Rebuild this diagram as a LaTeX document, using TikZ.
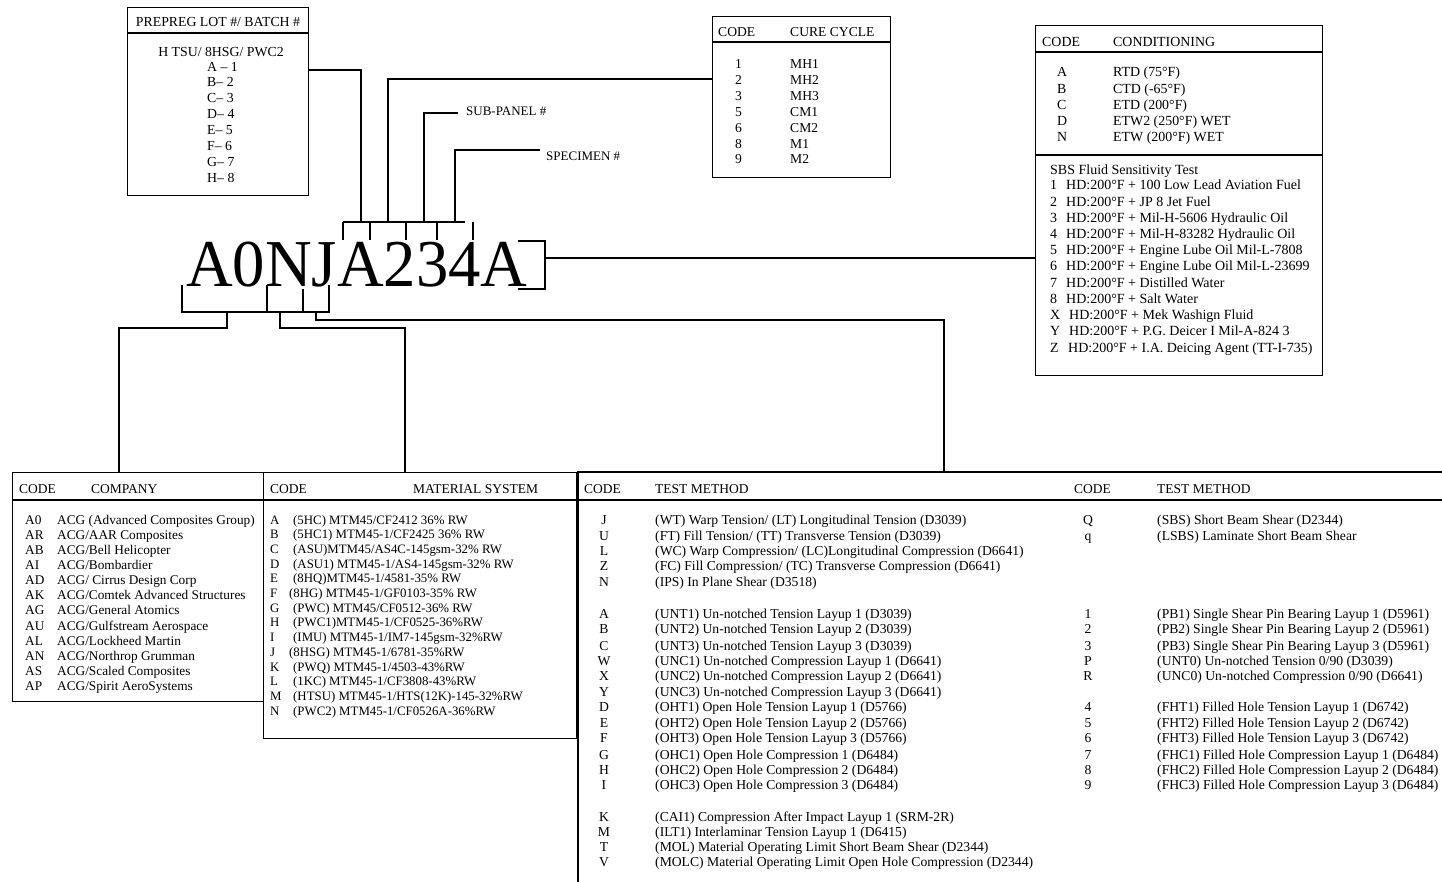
\documentclass[tikz,border=0pt]{standalone}
\usepackage{fontspec}
\setmainfont{Liberation Serif}
\usepackage{graphicx}
\begin{document}
\begin{tikzpicture}[x=1pt,y=-1pt,
  ln/.style={line width=1.3pt},
  box/.style={draw, line width=1.4pt, anchor=north west, inner sep=0pt},
  t/.style={anchor=base west, inner sep=0pt},
  tc/.style={anchor=base, inner sep=0pt},
  hd/.style={t, font=\fontsize{13.5}{15}\selectfont},
  fpre/.style={font=\fontsize{13.8}{15}\selectfont},
  fcure/.style={font=\fontsize{13.6}{15}\selectfont},
  fcond/.style={font=\fontsize{13.9}{15}\selectfont},
  fsbs/.style={font=\fontsize{14}{15}\selectfont},
  fco/.style={font=\fontsize{13.3}{15}\selectfont},
  fmat/.style={font=\fontsize{12.85}{15}\selectfont},
  ftest/.style={font=\fontsize{13.65}{15}\selectfont},
  flab/.style={font=\fontsize{13}{15}\selectfont}
]
\fill[white] (0,0) rectangle (1442,882);
\useasboundingbox (0,0) rectangle (1442,882);

% ---------- big code ----------
\node[t] (code) at (186,287) {\scalebox{0.965}[1]{\fontsize{67}{67}\selectfont A0NJA234A}};

% ---------- prepreg box ----------
\node[box, minimum width=181pt, minimum height=188pt] (prepreg) at (127,7) {};
\draw[ln] (prepreg.west |- 0,33) -- (prepreg.east |- 0,33);
\node[tc, fpre] (prehd) at (218,27) {PREPREG LOT \#/ BATCH \#};
\node[tc, fpre] (prebody) at (221,57) {H TSU/ 8HSG/ PWC2};
\foreach \y/\s [count=\i] in {71.5/{A – 1},87/{B– 2},103/{C– 3},119/{D– 4},135/{E– 5},151/{F– 6},167/{G– 7},183/{H– 8}}
  \node[t, fpre] (pre\i) at (207,\y) {\s};

% ---------- cure cycle box ----------
\node[box, minimum width=178pt, minimum height=161pt] (cure) at (712,16) {};
\draw[ln] (cure.west |- 0,42) -- (cure.east |- 0,42);
\node[t, fcure] (curehc) at (718,37) {CODE};
\node[t, fcure] (curehd) at (790,37) {CURE CYCLE};
\foreach \y/\c/\s [count=\i] in {68.5/1/MH1,84.5/2/MH2,100.5/3/MH3,116.5/5/CM1,133/6/CM2,148.5/8/M1,164/9/M2}{
  \node[t, fcure] (curec\i) at (735,\y) {\c};
  \node[t, fcure] (curet\i) at (790,\y) {\s};
}

% ---------- conditioning box ----------
\node[box, minimum width=287pt, minimum height=350pt] (cond) at (1035,25) {};
\draw[ln] (cond.west |- 0,52) -- (cond.east |- 0,52);
\draw[line width=2.6pt] (cond.west |- 0,155) -- (cond.east |- 0,155);
\node[t, fcond] (condhc) at (1042,47) {CODE};
\node[t, fcond] (condhd) at (1113,47) {CONDITIONING};
\foreach \y/\c/\s [count=\i] in {77/A/{RTD (75°F)},93.5/B/{CTD (-65°F)},109.5/C/{ETD (200°F)},125.5/D/{ETW2 (250°F) WET},141.5/N/{ETW (200°F) WET}}{
  \node[t, fcond] (condc\i) at (1057,\y) {\c};
  \node[t, fcond] (condt\i) at (1113,\y) {\s};
}
\node[t, fsbs] (sbshd) at (1050,175) {SBS Fluid Sensitivity Test};
\foreach \y/\c/\x/\s [count=\i] in {
  190/1/1066/{HD:200°F + 100 Low Lead Aviation Fuel},
  206.2/2/1066/{HD:200°F + JP 8 Jet Fuel},
  222.4/3/1066/{HD:200°F + Mil-H-5606 Hydraulic Oil},
  238.6/4/1066/{HD:200°F + Mil-H-83282 Hydraulic Oil},
  254.8/5/1066/{HD:200°F + Engine Lube Oil Mil-L-7808},
  271/6/1066/{HD:200°F + Engine Lube Oil Mil-L-23699},
  287.2/7/1066/{HD:200°F + Distilled Water},
  303.4/8/1066/{HD:200°F + Salt Water},
  319.6/X/1069/{HD:200°F + Mek Washign Fluid},
  335.8/Y/1069/{HD:200°F + P.G. Deicer I Mil-A-824 3},
  352.5/Z/1068/{HD:200°F + I.A. Deicing Agent (TT-I-735)}}{
  \node[t, fsbs] (sbsc\i) at (1050,\y) {\c};
  \node[t, fsbs] (sbst\i) at (\x,\y) {\s};
}

% ---------- company box ----------
\node[box, minimum width=251pt, minimum height=229pt] (company) at (12,472) {};
\draw[ln] (company.west |- 0,500) -- (company.east |- 0,500);
\node[hd] (cohc) at (19,493) {CODE};
\node[hd] (cohd) at (91,493) {COMPANY};
\foreach \y/\c/\s [count=\i] in {
  524/A0/{ACG (Advanced Composites Group)},
  539/AR/{ACG/AAR Composites},
  554/AB/{ACG/Bell Helicopter},
  569.5/AI/{ACG/Bombardier},
  584.5/AD/{ACG/ Cirrus Design Corp},
  599.5/AK/{ACG/Comtek Advanced Structures},
  614.5/AG/{ACG/General Atomics},
  630/AU/{ACG/Gulfstream Aerospace},
  645/AL/{ACG/Lockheed Martin},
  660/AN/{ACG/Northrop Grumman},
  675/AS/{ACG/Scaled Composites},
  690/AP/{ACG/Spirit AeroSystems}}{
  \node[t, fco] (coc\i) at (25,\y) {\c};
  \node[t, fco] (cot\i) at (57,\y) {\s};
}

% ---------- material box ----------
\node[box, minimum width=313pt, minimum height=266pt] (material) at (263,472) {};
\draw[ln] (material.west |- 0,500) -- (material.east |- 0,500);
\node[hd] (mahc) at (270,493) {CODE};
\node[hd] (mahd) at (413,493) {MATERIAL SYSTEM};
\foreach \y/\c/\x/\s [count=\i] in {
  524/A/293/{(5HC) MTM45/CF2412 36\% RW},
  538.7/B/293/{(5HC1) MTM45-1/CF2425 36\% RW},
  553.4/C/293/{(ASU)MTM45/AS4C-145gsm-32\% RW},
  568.1/D/293/{(ASU1) MTM45-1/AS4-145gsm-32\% RW},
  582.8/E/293/{(8HQ)MTM45-1/4581-35\% RW},
  597.5/F/289/{(8HG) MTM45-1/GF0103-35\% RW},
  612.2/G/293/{(PWC) MTM45/CF0512-36\% RW},
  626.9/H/293/{(PWC1)MTM45-1/CF0525-36\%RW},
  641.6/I/293/{(IMU) MTM45-1/IM7-145gsm-32\%RW},
  656.3/J/289/{(8HSG) MTM45-1/6781-35\%RW},
  671/K/293/{(PWQ) MTM45-1/4503-43\%RW},
  685.7/L/293/{(1KC) MTM45-1/CF3808-43\%RW},
  700.4/M/293/{(HTSU) MTM45-1/HTS(12K)-145-32\%RW},
  715.6/N/293/{(PWC2) MTM45-1/CF0526A-36\%RW}}{
  \node[t, fmat] (mac\i) at (270,\y) {\c};
  \node[t, fmat] (mat\i) at (\x,\y) {\s};
}

% ---------- test method area ----------
\coordinate (testtl) at (578,472);
\coordinate (testbl) at (578,882);
\coordinate (testtr) at (1442,472);
\draw[line width=1.4pt] (testbl) -- (testtl) -- (testtr);
\draw[ln] (578,500) -- (1442,500);
\node[hd] (tehc1) at (584,493) {CODE};
\node[hd] (tehd1) at (655,493) {TEST METHOD};
\node[hd] (tehc2) at (1074,493) {CODE};
\node[hd] (tehd2) at (1157,493) {TEST METHOD};
\foreach \y/\c/\s [count=\i] in {
  524.5/J/{(WT) Warp Tension/ (LT) Longitudinal Tension (D3039)},
  540.5/U/{(FT) Fill Tension/ (TT) Transverse Tension (D3039)},
  555.5/L/{(WC) Warp Compression/ (LC)Longitudinal Compression (D6641)},
  570.5/Z/{(FC) Fill Compression/ (TC) Transverse Compression (D6641)},
  586/N/{(IPS) In Plane Shear (D3518)},
  618/A/{(UNT1) Un-notched Tension Layup 1 (D3039)},
  633/B/{(UNT2) Un-notched Tension Layup 2 (D3039)},
  650/C/{(UNT3) Un-notched Tension Layup 3 (D3039)},
  665/W/{(UNC1) Un-notched Compression Layup 1 (D6641)},
  680.5/X/{(UNC2) Un-notched Compression Layup 2 (D6641)},
  696.5/Y/{(UNC3) Un-notched Compression Layup 3 (D6641)},
  711.5/D/{(OHT1) Open Hole Tension Layup 1 (D5766)},
  727/E/{(OHT2) Open Hole Tension Layup 2 (D5766)},
  742/F/{(OHT3) Open Hole Tension Layup 3 (D5766)},
  759/G/{(OHC1) Open Hole Compression 1 (D6484)},
  774/H/{(OHC2) Open Hole Compression 2 (D6484)},
  789.5/I/{(OHC3) Open Hole Compression 3 (D6484)},
  821/K/{(CAI1) Compression After Impact Layup 1 (SRM-2R)},
  836/M/{(ILT1) Interlaminar Tension Layup 1 (D6415)},
  851/T/{(MOL) Material Operating Limit Short Beam Shear (D2344)},
  866/V/{(MOLC) Material Operating Limit Open Hole Compression (D2344)}}{
  \node[tc, ftest] (tlc\i) at (604,\y) {\c};
  \node[t, ftest] (tlt\i) at (655,\y) {\s};
}
\foreach \y/\c/\s [count=\i] in {
  524.5/Q/{(SBS) Short Beam Shear (D2344)},
  540.5/q/{(LSBS) Laminate Short Beam Shear},
  618/1/{(PB1) Single Shear Pin Bearing Layup 1 (D5961)},
  633/2/{(PB2) Single Shear Pin Bearing Layup 2 (D5961)},
  650/3/{(PB3) Single Shear Pin Bearing Layup 3 (D5961)},
  665/P/{(UNT0) Un-notched Tension 0/90 (D3039)},
  680.5/R/{(UNC0) Un-notched Compression 0/90 (D6641)},
  711.5/4/{(FHT1) Filled Hole Tension Layup 1 (D6742)},
  727/5/{(FHT2) Filled Hole Tension Layup 2 (D6742)},
  742/6/{(FHT3) Filled Hole Tension Layup 3 (D6742)},
  759/7/{(FHC1) Filled Hole Compression Layup 1 (D6484)},
  774/8/{(FHC2) Filled Hole Compression Layup 2 (D6484)},
  789.5/9/{(FHC3) Filled Hole Compression Layup 3 (D6484)}}{
  \node[tc, ftest] (trc\i) at (1088,\y) {\c};
  \node[t, ftest] (trt\i) at (1157,\y) {\s};
}

% ---------- labels ----------
\node[t, flab] (subpanel) at (466,116) {SUB-PANEL \#};
\node[t, flab] (specimen) at (546,161) {SPECIMEN \#};

% ---------- top bracket ----------
\coordinate (tb1) at (343,222);
\coordinate (tb2) at (465,222);
\draw[ln] (tb1) -- (tb2);
\foreach \x in {343,370,406,437} \draw[ln] (\x,222) -- (\x,240);
\draw[ln] (473,222) -- (473,240);
\draw[ln] (prepreg.east |- 0,70) -| (361,222);
\draw[ln] (cure.west |- 0,79) -| (388,222);
\draw[ln] (424,222) |- ([xshift=-8pt]subpanel.west |- 0,113);
\draw[ln] (455,222) |- ([xshift=-6pt]specimen.west |- 0,150);

% ---------- right bracket ----------
\draw[ln] (518,241) -- (545,241) -- (545,289) -- (518,289);
\draw[ln] (545,258) -- (cond.west |- 0,258);

% ---------- bottom bracket ----------
\draw[ln] (182,285) -- (182,312) -- (329,312) -- (329,285);
\draw[ln] (267,285) -- (267,312);
\draw[ln] (303,289) -- (303,312);
\draw[ln] (227,312) -- (227,328) -| (company.north -| 119,0);
\draw[ln] (280,312) -- (280,328) -| (material.north -| 405,0);
\draw[ln] (316,312) -- (316,320) -| (testtl -| 944,0);
\end{tikzpicture}
\end{document}
